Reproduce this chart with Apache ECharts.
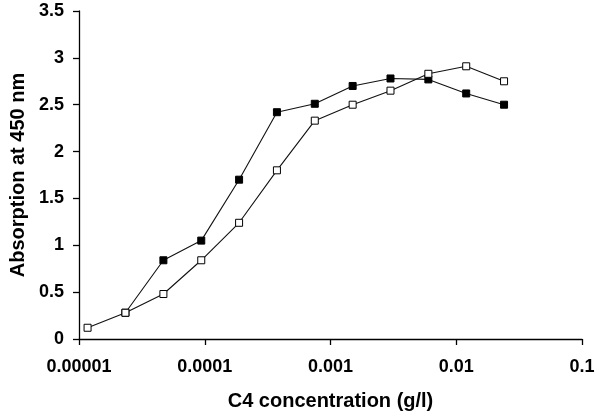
<!DOCTYPE html>
<html>
<head>
<meta charset="utf-8">
<script src="https://cdn.jsdelivr.net/npm/echarts@6/dist/echarts.min.js"></script>
<style>html,body{margin:0;padding:0;background:#fff}#c{width:600px;height:420px}</style>
</head>
<body>
<div id="c"></div>
<script>
var concOpen = [0.0000117, 0.0000234, 0.0000469, 0.0000938, 0.0001875, 0.000375, 0.00075, 0.0015, 0.003, 0.006, 0.012, 0.024];
var absOpen = [0.12, 0.28, 0.48, 0.84, 1.24, 1.80, 2.33, 2.50, 2.65, 2.83, 2.91, 2.75];
var concFilled = [0.0000234, 0.0000469, 0.0000938, 0.0001875, 0.000375, 0.00075, 0.0015, 0.003, 0.006, 0.012, 0.024];
var absFilled = [0.28, 0.84, 1.05, 1.70, 2.42, 2.51, 2.70, 2.78, 2.77, 2.62, 2.50];
var xTickLabels = ['0.00001', '0.0001', '0.001', '0.01', '0.1'];
var yTickLabels = ['0', '0.5', '1', '1.5', '2', '2.5', '3', '3.5'];

function pairs(xs, ys) { return xs.map(function (x, i) { return [x, ys[i]]; }); }

var font = '"Liberation Sans", Arial, Helvetica, sans-serif';
var chart = echarts.init(document.getElementById('c'), null, { renderer: 'canvas' });
chart.setOption({
  animation: false,
  backgroundColor: '#ffffff',
  grid: { left: 78, right: 18, top: 11, bottom: 81, containLabel: false },
  xAxis: {
    type: 'log', logBase: 10, min: 0.00001, max: 0.1,
    name: 'C4 concentration (g/l)', nameLocation: 'middle', nameGap: 52,
    nameTextStyle: { fontFamily: font, fontWeight: 'bold', fontSize: 20, color: '#000' },
    axisLine: { lineStyle: { color: '#000', width: 1.3 } },
    axisTick: { show: true, length: 6, inside: false, lineStyle: { color: '#000', width: 1.3 } },
    minorTick: { show: false },
    splitLine: { show: false },
    axisLabel: {
      margin: 19, fontFamily: font, fontWeight: 'bold', fontSize: 18, color: '#000',
      formatter: function (v) {
        var e = Math.round(Math.log10(v)) + 5;
        return xTickLabels[e] !== undefined ? xTickLabels[e] : '';
      }
    }
  },
  yAxis: {
    type: 'value', min: 0, max: 3.5, interval: 0.5,
    name: 'Absorption at 450 nm', nameLocation: 'middle', nameGap: 51, nameRotate: 90,
    nameTextStyle: { fontFamily: font, fontWeight: 'bold', fontSize: 20, color: '#000' },
    axisLine: { show: true, lineStyle: { color: '#000', width: 1.3 } },
    axisTick: { show: true, length: 6, lineStyle: { color: '#000', width: 1.3 } },
    splitLine: { show: false },
    axisLabel: {
      margin: 15, fontFamily: font, fontWeight: 'bold', fontSize: 18, color: '#000',
      formatter: function (v) { return yTickLabels[Math.round(v / 0.5)]; }
    }
  },
  series: [
    {
      type: 'line', data: pairs(concFilled, absFilled),
      symbol: 'rect', symbolSize: 7,
      lineStyle: { color: '#111', width: 1.1 },
      itemStyle: { color: '#000', borderColor: '#000', borderWidth: 1 },
      z: 2
    },
    {
      type: 'line', data: pairs(concOpen, absOpen),
      symbol: 'rect', symbolSize: 7,
      lineStyle: { color: '#111', width: 1.1 },
      itemStyle: { color: '#fff', borderColor: '#000', borderWidth: 1 },
      z: 3
    }
  ]
});
</script>
</body>
</html>
